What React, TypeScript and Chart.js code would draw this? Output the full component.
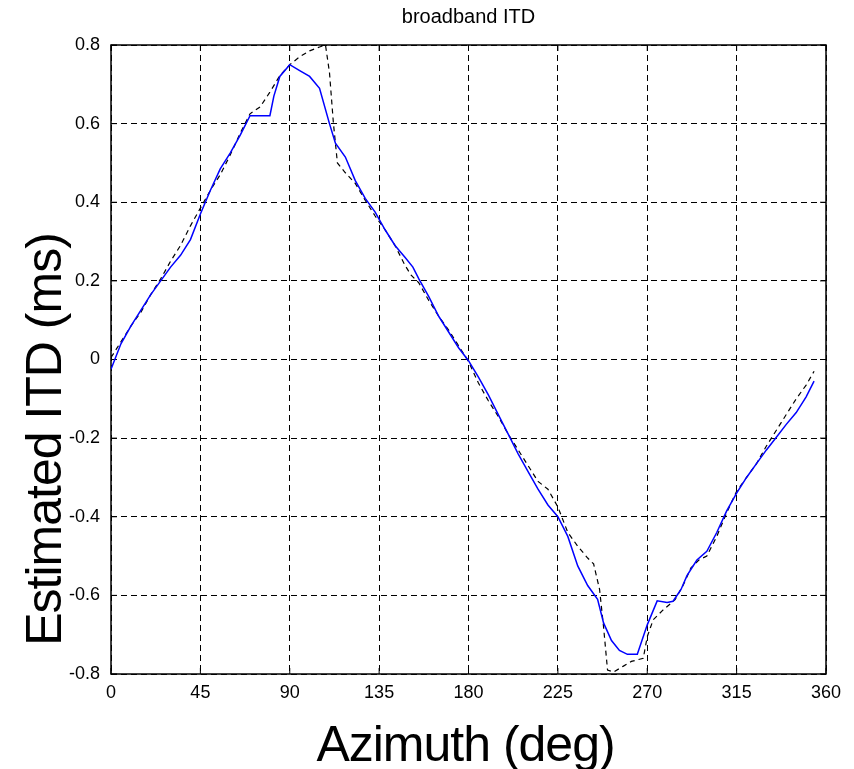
import React, { useEffect, useRef } from "react";
import { Chart, registerables } from "chart.js";

Chart.register(...registerables);

const TITLE = "broadband ITD";
const X_TITLE = "Azimuth (deg)";
const Y_TITLE = "Estimated ITD (ms)";

const X_MIN = 0;
const X_MAX = 360;
const X_STEP = 45;
const Y_MIN = -0.8;
const Y_MAX = 0.8;
const Y_STEP = 0.2;

// Estimated ITD (blue, solid)
const AZ_EST = [
  0, 5, 10, 15, 20, 25, 30, 35, 40, 45, 50, 55, 60, 65, 70, 75, 80, 82, 85, 90,
  95, 100, 105, 110, 113, 118, 123, 128, 133, 138, 143, 148, 152, 155, 160, 165,
  170, 175, 180, 185, 190, 195, 200, 205, 210, 215, 220, 225, 230, 235, 240, 245,
  248, 252, 256, 260, 265, 270, 275, 280, 283, 287, 290, 295, 300, 305, 310, 315,
  320, 325, 330, 335, 340, 345, 350, 354,
];
const ITD_EST = [
  -0.025, 0.04, 0.085, 0.125, 0.165, 0.2, 0.235, 0.265, 0.305, 0.37, 0.43, 0.485,
  0.525, 0.57, 0.62, 0.62, 0.62, 0.67, 0.72, 0.75, 0.735, 0.72, 0.69, 0.6, 0.55,
  0.515, 0.455, 0.41, 0.375, 0.33, 0.29, 0.26, 0.235, 0.205, 0.16, 0.11, 0.07,
  0.03, -0.003, -0.045, -0.09, -0.14, -0.19, -0.24, -0.285, -0.33, -0.37, -0.4,
  -0.45, -0.525, -0.575, -0.61, -0.67, -0.715, -0.74, -0.75, -0.75, -0.675,
  -0.614, -0.618, -0.615, -0.585, -0.55, -0.51, -0.488, -0.44, -0.385, -0.34,
  -0.3, -0.265, -0.23, -0.198, -0.165, -0.135, -0.095, -0.055,
];

// Reference ITD (black, dashed)
const AZ_REF = [
  0, 5, 10, 15, 20, 25, 30, 35, 40, 45, 50, 55, 60, 65, 70, 75, 80, 85, 90, 95,
  100, 105, 108, 110, 112, 114, 118, 123, 128, 133, 138, 143, 148, 151, 155, 160,
  165, 170, 175, 180, 185, 190, 195, 200, 205, 210, 215, 220, 225, 230, 235, 240,
  243, 246, 248, 250, 253, 258, 262, 268, 270, 273, 278, 284, 288, 292, 296, 300,
  305, 310, 315, 320, 325, 330, 335, 340, 345, 350, 354,
];
const ITD_REF = [
  0.005, 0.045, 0.085, 0.12, 0.165, 0.205, 0.25, 0.29, 0.34, 0.385, 0.43, 0.47,
  0.52, 0.575, 0.625, 0.642, 0.68, 0.722, 0.75, 0.77, 0.785, 0.795, 0.8, 0.73,
  0.6, 0.5, 0.475, 0.448, 0.405, 0.365, 0.33, 0.29, 0.24, 0.215, 0.195, 0.15,
  0.11, 0.075, 0.035, -0.005, -0.06, -0.105, -0.145, -0.19, -0.23, -0.27, -0.31,
  -0.33, -0.375, -0.44, -0.475, -0.505, -0.52, -0.585, -0.68, -0.79, -0.795,
  -0.78, -0.768, -0.76, -0.705, -0.662, -0.637, -0.611, -0.575, -0.53, -0.51,
  -0.5, -0.45, -0.39, -0.335, -0.3, -0.265, -0.22, -0.18, -0.14, -0.1, -0.065,
  -0.03,
];

const FONT = "'Liberation Sans', Arial, sans-serif";

const framePlugin = {
  id: "matlabFrame",
  beforeDatasetsDraw(chart: any) {
    const { ctx, chartArea: a, scales } = chart;
    ctx.save();
    ctx.setLineDash([]);
    ctx.strokeStyle = "#000";
    ctx.lineWidth = 1.5;
    ctx.strokeRect(a.left, a.top, a.right - a.left, a.bottom - a.top);
    ctx.lineWidth = 1;
    const tl = 6;
    ctx.beginPath();
    scales.x.ticks.forEach((t: any) => {
      const px = scales.x.getPixelForValue(t.value);
      ctx.moveTo(px, a.bottom);
      ctx.lineTo(px, a.bottom - tl);
      ctx.moveTo(px, a.top);
      ctx.lineTo(px, a.top + tl);
    });
    scales.y.ticks.forEach((t: any) => {
      const py = scales.y.getPixelForValue(t.value);
      ctx.moveTo(a.left, py);
      ctx.lineTo(a.left + tl, py);
      ctx.moveTo(a.right, py);
      ctx.lineTo(a.right - tl, py);
    });
    ctx.stroke();
    ctx.restore();
  },
  afterDraw(chart: any) {
    const { ctx, chartArea: a } = chart;
    ctx.save();
    ctx.fillStyle = "#000";
    ctx.font = `50px ${FONT}`;
    try {
      (ctx as any).letterSpacing = "-1px";
    } catch (e) {}
    ctx.textAlign = "center";
    ctx.textBaseline = "alphabetic";
    // x axis title
    ctx.fillText(X_TITLE, (a.left + a.right) / 2 - 3, a.bottom + 87);
    // y axis title
    ctx.translate(61, (a.top + a.bottom) / 2 + 80);
    ctx.rotate(-Math.PI / 2);
    ctx.fillText(Y_TITLE, 0, 0);
    ctx.restore();
  },
};

export default function App() {
  const canvasRef = useRef<HTMLCanvasElement | null>(null);

  useEffect(() => {
    if (!canvasRef.current) return;
    const est = AZ_EST.map((x, i) => ({ x, y: ITD_EST[i] }));
    const ref = AZ_REF.map((x, i) => ({ x, y: ITD_REF[i] }));
    const chart = new Chart(canvasRef.current, {
      type: "line",
      data: {
        datasets: [
          {
            label: "estimated",
            data: est,
            borderColor: "#0000ff",
            borderWidth: 1.5,
            pointRadius: 0,
            tension: 0,
            fill: false,
          },
          {
            label: "reference",
            data: ref,
            borderColor: "#000000",
            borderWidth: 1.2,
            borderDash: [5, 4],
            pointRadius: 0,
            tension: 0,
            fill: false,
          },
        ],
      },
      options: {
        animation: false,
        responsive: false,
        layout: { padding: { left: 0, right: 28, top: 0, bottom: 0 } },
        plugins: {
          legend: { display: false },
          tooltip: { enabled: false },
          title: {
            display: true,
            text: TITLE,
            fullSize: false,
            color: "#000",
            font: { family: FONT, size: 20, weight: "normal" },
            padding: { top: 5, bottom: 16 },
          },
        },
        scales: {
          x: {
            type: "linear",
            min: X_MIN,
            max: X_MAX,
            afterFit: (s: any) => {
              s.height = 95;
            },
            ticks: {
              stepSize: X_STEP,
              color: "#000",
              padding: 8,
              maxRotation: 0,
              font: { family: FONT, size: 18 },
            },
            grid: { color: "#000", lineWidth: 1, drawTicks: false },
            border: { display: false, dash: [6, 4] },
          },
          y: {
            type: "linear",
            min: Y_MIN,
            max: Y_MAX,
            afterFit: (s: any) => {
              s.width = 111;
            },
            ticks: {
              stepSize: Y_STEP,
              color: "#000",
              padding: 11,
              font: { family: FONT, size: 18 },
              callback: (v: any) => {
                const n = Number(Number(v).toFixed(1));
                return (n === 0 ? 0 : n).toString();
              },
            },
            grid: { color: "#000", lineWidth: 1, drawTicks: false },
            border: { display: false, dash: [6, 4] },
          },
        },
      },
      plugins: [framePlugin],
    });
    return () => chart.destroy();
  }, []);

  return (
    <div style={{ position: "absolute", left: 0, top: 0, width: 854, height: 769, background: "#fff" }}>
      <canvas ref={canvasRef} width={854} height={769} style={{ display: "block" }} />
    </div>
  );
}
